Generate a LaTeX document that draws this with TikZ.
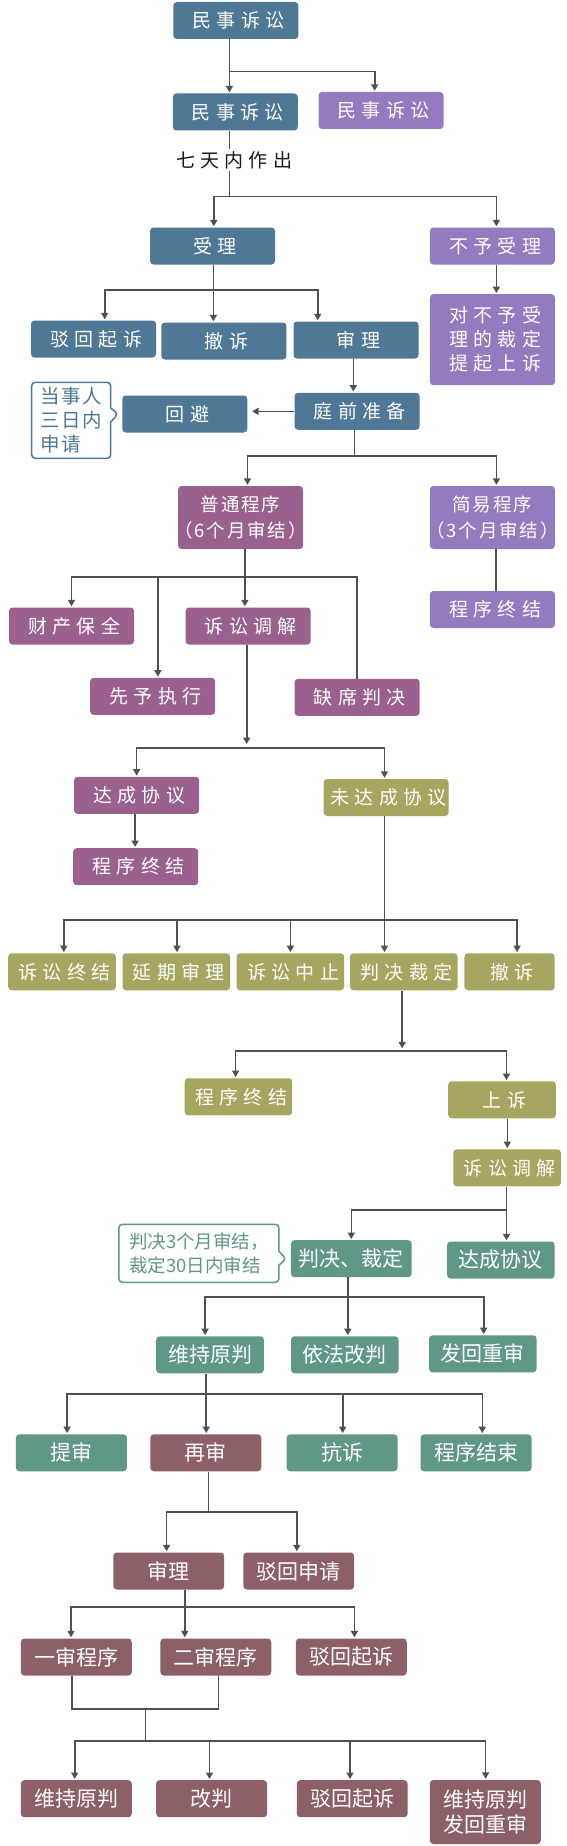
\documentclass[tikz,border=0pt]{standalone}
\usepackage{fontspec}
\usetikzlibrary{arrows.meta,shapes.callouts,calc}
\newfontfamily\fA[LetterSpace=28]{Noto Sans CJK SC}
\newfontfamily\fB[LetterSpace=10]{Noto Sans CJK SC}
\newfontfamily\fC{Noto Sans CJK SC}
\definecolor{cblue}{HTML}{4E7895}
\definecolor{clp}{HTML}{947ABF}
\definecolor{cplum}{HTML}{9A618E}
\definecolor{colive}{HTML}{A6A660}
\definecolor{cteal}{HTML}{5F9887}
\definecolor{cmar}{HTML}{8D5F66}
\definecolor{cline}{HTML}{505050}
\tikzset{
 box/.style={rounded corners=3.5pt, text=white, inner sep=0pt, minimum width=125pt, minimum height=37pt},
 up/.style={box, font=\fA\fontsize{19}{24}\selectfont, execute at begin node={\hskip5.3pt}},
 two/.style={box, font=\fB\fontsize{18.5}{26.5}\selectfont, align=center, minimum height=63pt},
 low/.style={box, font=\fC\fontsize{21}{25}\selectfont, minimum width=107.6pt},
 ln/.style={draw=cline, line width=1.6pt},
 arr/.style={ln, -{Triangle[length=6.5pt,width=7pt]}, shorten >=1pt},
 note/.style={rectangle callout, draw=#1, text=#1, fill=white, line width=1.5pt, rounded corners=3.5pt, inner sep=0pt, callout pointer width=14pt, align=left},
 lbl/.style={font=\fA\fontsize{19}{24}\selectfont, text=black!90, inner sep=2pt, execute at begin node={\hskip5.3pt}}
}
\begin{document}
\begin{tikzpicture}[x=1pt,y=-1pt]
\fill[white] (0,0) rectangle (567,1846);
\useasboundingbox (0,0) rectangle (567,1846);
% ---------------- nodes: blue / light purple
\node[up,fill=cblue] (n1) at (235.9,20.5) {民事诉讼};
\node[up,fill=cblue] (n2) at (235.3,112) {民事诉讼};
\node[up,fill=clp] (n3) at (381,110.5) {民事诉讼};
\node[lbl] (qt) at (231.5,160) {七天内作出};
\node[up,fill=cblue] (sl) at (212.5,246) {受理};
\node[up,fill=clp] (byl) at (492.4,246) {不予受理};
\node[up,fill=cblue] (bh) at (93.5,339) {驳回起诉};
\node[up,fill=cblue] (cs) at (223.9,341) {撤诉};
\node[up,fill=cblue] (sl2) at (356,340) {审理};
\node[up,fill=clp,minimum height=91pt,align=center,execute at begin node={}] (dbu) at (492.4,339.7) {对不予受\\理的裁定\\提起上诉};
\node[up,fill=cblue] (tq) at (357.1,411.3) {庭前准备};
\node[up,fill=cblue] (hb) at (184.8,414) {回避};
\node[note=cblue, minimum width=79pt, minimum height=76pt, font=\fB\fontsize{19.5}{24}\selectfont,
      callout absolute pointer={($(hb.west)+(-4,0)$)}] (c1) at (71.2,420.3) {当事人\\三日内\\申请};
% ---------------- plum / light purple
\node[two,fill=cplum] (pt) at (240.6,517.5) {普通程序\\\makebox[118pt]{（6个月审结）}};
\node[two,fill=clp] (jy) at (492.4,517.5) {简易程序\\\makebox[118pt]{（3个月审结）}};
\node[up,fill=clp] (jyend) at (492.4,609.5) {程序终结};
\node[up,fill=cplum] (cc) at (71.5,626) {财产保全};
\node[up,fill=cplum] (xy) at (152.7,696.3) {先予执行};
\node[up,fill=cplum] (tj) at (248.1,626) {诉讼调解};
\node[up,fill=cplum] (qx) at (357.1,697.3) {缺席判决};
\node[up,fill=cplum] (dc) at (136.6,795.3) {达成协议};
\node[up,fill=cplum] (dcend) at (135.7,866.7) {程序终结};
% ---------------- olive
\node[up,fill=colive] (wd) at (386.1,797.5) {未达成协议};
\node[up,fill=colive,minimum width=107.6pt] (r1) at (62,971.8) {诉讼终结};
\node[up,fill=colive,minimum width=107.6pt] (r2) at (176.3,971.8) {延期审理};
\node[up,fill=colive,minimum width=107.6pt] (r3) at (290.4,971.8) {诉讼中止};
\node[up,fill=colive,minimum width=107.6pt] (r4) at (403.8,971.8) {判决裁定};
\node[up,fill=colive,minimum width=90.2pt] (r5) at (509.5,971.8) {撤诉};
\node[up,fill=colive,minimum width=107.6pt] (oend) at (238.4,1096.8) {程序终结};
\node[up,fill=colive,minimum width=107.6pt] (sx) at (502,1099.8) {上诉};
\node[up,fill=colive,minimum width=107.6pt] (tj2) at (507.1,1167.8) {诉讼调解};
% ---------------- teal
\node[low,fill=cteal,minimum width=120.7pt] (pj) at (351.3,1258.7) {判决、裁定};
\node[low,fill=cteal] (dc2) at (500.9,1260) {达成协议};
\node[note=cteal, minimum width=160pt, minimum height=58pt, font=\fC\fontsize{18.5}{24.5}\selectfont,
      callout absolute pointer={($(pj.west)+(-4.6,0)$)}] (c2) at (198.9,1253.3) {判决3个月审结，\\裁定30日内审结};
\node[low,fill=cteal] (wc) at (210,1354.8) {维持原判};
\node[low,fill=cteal] (yf) at (344.8,1354.8) {依法改判};
\node[low,fill=cteal] (fh) at (482.8,1353.8) {发回重审};
\node[low,fill=cteal,minimum width=110.9pt] (ts) at (71.4,1452.8) {提审};
\node[low,fill=cmar,minimum width=110.9pt] (zs) at (205.8,1452.8) {再审};
\node[low,fill=cteal,minimum width=110.9pt] (ks) at (342.1,1452.8) {抗诉};
\node[low,fill=cteal,minimum width=110.9pt] (cj) at (476.1,1452.8) {程序结束};
% ---------------- maroon
\node[low,fill=cmar,minimum width=110.9pt] (sl3) at (168.7,1571) {审理};
\node[low,fill=cmar,minimum width=110.9pt] (bs) at (298.7,1571) {驳回申请};
\node[low,fill=cmar,minimum width=110.9pt] (ys) at (76.3,1657) {一审程序};
\node[low,fill=cmar,minimum width=110.9pt] (es) at (215.8,1657) {二审程序};
\node[low,fill=cmar,minimum width=110.9pt] (bq) at (351.3,1657) {驳回起诉};
\node[low,fill=cmar,minimum width=110.9pt] (m1) at (76.3,1798.7) {维持原判};
\node[low,fill=cmar,minimum width=110.9pt] (m2) at (211.6,1798.7) {改判};
\node[low,fill=cmar,minimum width=110.9pt] (m3) at (352.2,1798.7) {驳回起诉};
\node[low,fill=cmar,minimum width=110.9pt,minimum height=64pt,align=center] (m4) at (485.3,1812) {维持原判\\发回重审};
% ---------------- connectors
\coordinate (b1) at (229.4,71.7);
\draw[ln] (n1.south -| b1) -- (b1);
\draw[arr] (b1) -- (b1 |- n2.north);
\draw[arr] (b1) -| ([xshift=-6.3pt]n3.north);
\coordinate (b2) at (229.4,196.7);
\draw[ln] (n2.south -| b2) -- (qt.north -| b2);
\draw[ln] (qt.south -| b2) -- (b2);
\draw[arr] (b2) -| ([xshift=1.3pt]sl.north);
\draw[arr] (b2) -| ([xshift=4pt]byl.north);
\coordinate (b3) at (213.4,289.7);
\draw[ln] (sl.south -| b3) -- (b3);
\draw[arr] (b3) -| ([xshift=11.2pt]bh.north);
\draw[arr] (b3) -- (b3 |- cs.north);
\draw[arr] (b3) -| ([xshift=-38.3pt]sl2.north);
\draw[arr] ([xshift=4pt]byl.south) -- ([xshift=4pt]dbu.north);
\coordinate (v5) at (353.3,0);
\draw[arr] (sl2.south -| v5) -- (tq.north -| v5);
\draw[arr,shorten >=4.6pt] (tq.west) -- (tq.west -| hb.east);
\coordinate (b7) at (354.4,455.7);
\draw[ln] (tq.south -| b7) -- (b7);
\draw[arr] (b7) -| ([xshift=6.9pt]pt.north);
\draw[arr] (b7) -| ([xshift=4pt]jy.north);
\draw[ln] ([xshift=3.6pt]jy.south) -- ([xshift=3.6pt]jyend.north);
\coordinate (b9) at (244.9,576.7);
\draw[ln] (pt.south -| b9) -- (b9);
\draw[arr] (b9) -| (cc.north);
\draw[arr] (b9) -| ([xshift=5.2pt]xy.north);
\draw[arr] (b9) -- (b9 |- tj.north);
\draw[ln] (b9) -| (qx.north);
\coordinate (s10) at (246.7,748);
\draw[arr,shorten >=4pt] (tj.south -| s10) -- (s10);
\draw[arr] (s10) -| (dc.north);
\draw[arr] (s10) -| ([xshift=-1.6pt]wd.north);
\coordinate (v11) at (135.1,0);
\draw[arr] (dc.south -| v11) -- (dcend.north -| v11);
\coordinate (b12) at (384.5,920);
\draw[ln] (wd.south -| b12) -- (b12);
\draw[arr] (b12) -| ([xshift=1.8pt]r1.north);
\draw[arr] (b12) -| ([xshift=0.6pt]r2.north);
\draw[arr] (b12) -| (r3.north);
\draw[arr] (b12) -- (b12 |- r4.north);
\draw[arr] (b12) -| ([xshift=7.6pt]r5.north);
\coordinate (s13) at (402.2,1050.7);
\draw[arr,shorten >=2.4pt] (r4.south -| s13) -- (s13);
\draw[arr] (s13) -| ([xshift=-2.8pt]oend.north);
\draw[arr] (s13) -| ([xshift=4.5pt]sx.north);
\coordinate (v14) at (507.3,0);
\draw[arr] (sx.south -| v14) -- (tj2.north -| v14);
\coordinate (b15) at (506.5,1210);
\draw[ln] (tj2.south -| b15) -- (b15);
\draw[arr] (b15) -| (pj.north);
\draw[arr] (b15) -- (b15 |- dc2.north);
\coordinate (b16) at (347.8,1297);
\draw[ln] (pj.south -| b16) -- (b16);
\draw[arr] (b16) -| ([xshift=-4.9pt]wc.north);
\draw[arr] (b16) -- (b16 |- yf.north);
\draw[arr] (b16) -| ([xshift=0.9pt]fh.north);
\coordinate (b17) at (206.2,1394);
\draw[ln] (wc.south -| b17) -- (b17);
\draw[arr] (b17) -| ([xshift=-4.3pt]ts.north);
\draw[arr] (b17) -- (b17 |- zs.north);
\draw[arr] (b17) -| ([xshift=0.6pt]ks.north);
\draw[arr] (b17) -| ([xshift=6.2pt]cj.north);
\coordinate (b18) at (208.4,1512);
\draw[ln] (zs.south -| b18) -- (b18);
\draw[arr] (b18) -| ([xshift=-2.1pt]sl3.north);
\draw[arr] (b18) -| ([xshift=-1.9pt]bs.north);
\coordinate (b19) at (184.8,1607);
\draw[ln] (sl3.south -| b19) -- (b19);
\draw[arr] (b19) -| ([xshift=-5.3pt]ys.north);
\draw[arr] (b19) -- (b19 |- es.north);
\draw[arr] (b19) -| ([xshift=3.1pt]bq.north);
\coordinate (j20) at (145.3,1708.7);
\draw[ln] ([xshift=-4.2pt]ys.south) |- (j20);
\draw[ln] ([xshift=2.7pt]es.south) |- (j20);
\coordinate (b20) at (145.3,1740.7);
\draw[ln] (j20) -- (b20);
\draw[arr] (b20) -| ([xshift=-1.6pt]m1.north);
\draw[arr] (b20) -| ([xshift=-2.1pt]m2.north);
\draw[arr] (b20) -| ([xshift=-2.2pt]m3.north);
\draw[arr] (b20) -| ([xshift=0.3pt]m4.north);
\end{tikzpicture}
\end{document}
